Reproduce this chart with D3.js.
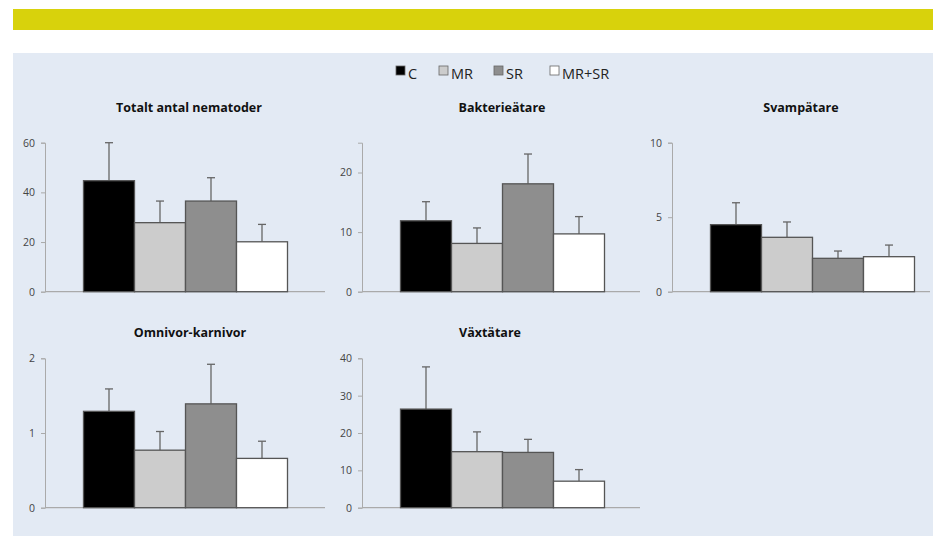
<!DOCTYPE html>
<html>
<head>
<meta charset="utf-8">
<script src="https://cdn.jsdelivr.net/npm/d3@7"></script>
<style>
  body { margin: 0; background: #fff; }
  text { font-family: "Open Sans", Lato, sans-serif; }
</style>
</head>
<body>
<script>
// data
var series = ["C", "MR", "SR", "MR+SR"]
var titles = ["Totalt antal nematoder", "Bakterieätare", "Svampätare", "Omnivor-karnivor", "Växtätare"]
var totalt = [44.7, 27.8, 36.5, 20.1]
var totaltErr = [60, 36.5, 45.9, 27.1]
var bakterie = [11.9, 8.1, 18.1, 9.7]
var bakterieErr = [15.1, 10.7, 23.1, 12.6]
var svamp = [4.5, 3.65, 2.24, 2.35]
var svampErr = [5.97, 4.68, 2.73, 3.13]
var omnivor = [1.29, 0.77, 1.39, 0.66]
var omnivorErr = [1.59, 1.02, 1.92, 0.89]
var vaxt = [26.4, 15.0, 14.8, 7.1]
var vaxtErr = [37.7, 20.3, 18.3, 10.2]
var yMaxes = [60, 25, 10, 2, 40]
var yTicks = [[0, 20, 40, 60], [0, 10, 20], [0, 5, 10], [0, 1, 2], [0, 10, 20, 30, 40]]

var values = [totalt, bakterie, svamp, omnivor, vaxt]
var errTops = [totaltErr, bakterieErr, svampErr, omnivorErr, vaxtErr]

var colors = {"C": "#000000", "MR": "#cccccc", "SR": "#8e8e8e", "MR+SR": "#ffffff"}

var W = 939, H = 536
var svg = d3.select("body").append("svg")
  .attr("width", W).attr("height", H)

// yellow strip + blue panel
svg.append("rect").attr("x", 13).attr("y", 9).attr("width", 920).attr("height", 21).attr("fill", "#d8d20c")
svg.append("rect").attr("x", 13).attr("y", 53).attr("width", 920).attr("height", H - 53).attr("fill", "#e3eaf4")

// legend
var legX = [396, 439, 494, 550]
var leg = svg.append("g").attr("id", "legend")
  .selectAll("g").data(series).enter().append("g")
  .attr("transform", function(d, i) { return "translate(" + legX[i] + ",66)" })
leg.append("rect").attr("width", 9).attr("height", 9)
  .attr("fill", function(d) { return colors[d] })
  .attr("stroke", "#666").attr("stroke-width", 0.8)
leg.append("text").attr("x", 12).attr("y", 12.5)
  .attr("font-size", 14.5).attr("fill", "#222")
  .text(function(d) { return d })

// panel positions (y axis x, top, bottom)
var layout = [
  {x: 45, top: 142.7, bottom: 291.7, tx: 189, ty: 112, right: 325},
  {x: 362, top: 142.7, bottom: 291.7, tx: 502, ty: 112, right: 640},
  {x: 672, top: 142.7, bottom: 291.7, tx: 801, ty: 112, right: 930},
  {x: 45, top: 358.3, bottom: 507.7, tx: 190, ty: 337, right: 325},
  {x: 362, top: 358.3, bottom: 507.7, tx: 490, ty: 337, right: 640}
]

layout.forEach(function(p, k) {
  var g = svg.append("g")

  var yScale = d3.scaleLinear().domain([0, yMaxes[k]]).range([p.bottom, p.top])
  var xScale = d3.scaleBand().domain(series)
    .range([p.x + 38.5, p.x + 38.5 + 204]).padding(0)

  g.append("text")
    .attr("x", p.tx).attr("y", p.ty)
    .attr("text-anchor", "middle")
    .attr("font-size", 12.5).attr("font-weight", "bold").attr("fill", "#111")
    .text(titles[k])

  // y axis
  var yAxis = d3.axisLeft(yScale).tickValues(yTicks[k]).tickFormat(d3.format("d"))
    .tickSize(4).tickPadding(6)
  var ya = g.append("g").attr("transform", "translate(" + p.x + ",0)").call(yAxis)
  ya.select(".domain").attr("stroke", "#aaaaaa")
  ya.selectAll(".tick line").attr("stroke", "#aaaaaa")
  ya.selectAll(".tick text").attr("fill", "#444").attr("font-size", 10.5)
    .style("font-family", "'Open Sans', Lato, sans-serif")

  // x axis line
  g.append("line")
    .attr("x1", p.x).attr("x2", p.right)
    .attr("y1", yScale(0)).attr("y2", yScale(0))
    .attr("stroke", "#aaaaaa").attr("stroke-width", 1.2)

  var data = series.map(function(s, i) { return {s: s, v: values[k][i], e: errTops[k][i]} })

  // error bars (upper only)
  var eb = g.selectAll(".err").data(data).enter().append("g")
  eb.append("line")
    .attr("x1", function(d) { return xScale(d.s) + xScale.bandwidth() / 2 })
    .attr("x2", function(d) { return xScale(d.s) + xScale.bandwidth() / 2 })
    .attr("y1", function(d) { return yScale(d.v) })
    .attr("y2", function(d) { return yScale(d.e) })
    .attr("stroke", "#666").attr("stroke-width", 1.3)
  eb.append("line")
    .attr("x1", function(d) { return xScale(d.s) + xScale.bandwidth() / 2 - 4 })
    .attr("x2", function(d) { return xScale(d.s) + xScale.bandwidth() / 2 + 4 })
    .attr("y1", function(d) { return yScale(d.e) })
    .attr("y2", function(d) { return yScale(d.e) })
    .attr("stroke", "#666").attr("stroke-width", 1.3)

  // bars
  g.selectAll(".bar").data(data).enter().append("rect")
    .attr("x", function(d) { return xScale(d.s) })
    .attr("y", function(d) { return yScale(d.v) })
    .attr("width", xScale.bandwidth())
    .attr("height", function(d) { return yScale(0) - yScale(d.v) })
    .attr("fill", function(d) { return colors[d.s] })
    .attr("stroke", "#555").attr("stroke-width", 1.3)
})
</script>
</body>
</html>
